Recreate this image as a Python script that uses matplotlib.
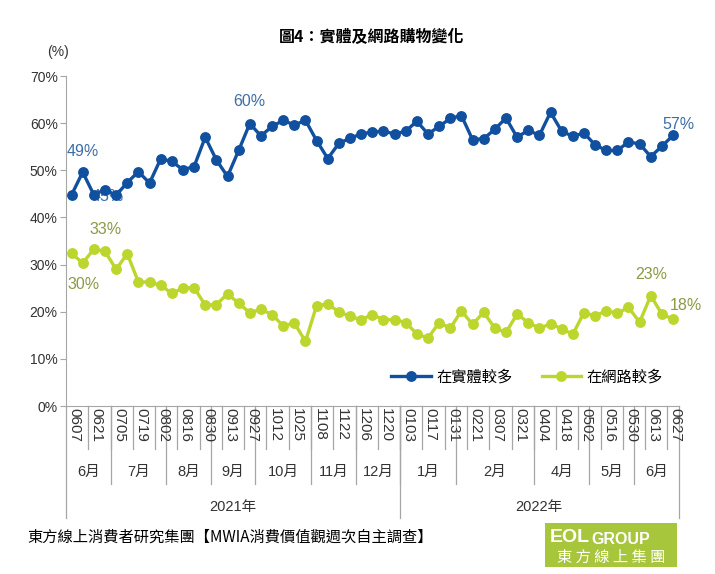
import numpy as np
import matplotlib.pyplot as plt
from matplotlib.patches import Rectangle
from matplotlib.lines import Line2D
from matplotlib.transforms import blended_transform_factory

plt.rcParams['font.family'] = ['Liberation Sans', 'Noto Sans CJK TC']

# weekly survey values (%), 0607 (2021) .. 0627 (2022)
physical = [44.8, 49.6, 44.8, 45.9, 44.7, 47.4, 49.7, 47.3, 52.4, 51.9,
            50.1, 50.8, 57.0, 52.2, 48.7, 54.2, 59.9, 57.3, 59.3,
            60.6, 59.6, 60.6, 56.3, 52.5, 55.7, 56.8, 57.7, 58.1, 58.3,
            57.7, 58.3, 60.4, 57.7, 59.3, 61.0, 61.6, 56.5, 56.7,
            58.7, 61.1, 57.0, 58.5, 57.4, 62.3, 58.3, 57.2, 57.9, 55.4,
            54.2, 54.2, 56.0, 55.6, 52.9, 55.1, 57.4]
online = [32.4, 30.3, 33.3, 32.8, 29.0, 32.3, 26.3, 26.3, 25.6, 23.9,
          25.0, 25.1, 21.4, 21.5, 23.8, 21.8, 19.8, 20.5, 19.4,
          17.0, 17.6, 13.7, 21.3, 21.6, 20.0, 19.0, 18.3, 19.4, 18.3,
          18.3, 17.7, 15.3, 14.4, 17.7, 16.5, 20.2, 17.3, 19.9,
          16.5, 15.6, 19.5, 17.7, 16.5, 17.4, 16.4, 15.2, 19.8, 19.1,
          20.2, 19.7, 20.9, 17.8, 23.4, 19.5, 18.4]

# labels shown every second week
date_labels = ['0607', '0621', '0705', '0719', '0802', '0816', '0830', '0913',
               '0927', '1012', '1025', '1108', '1122', '1206', '1220', '0103',
               '0117', '0131', '0221', '0307', '0321', '0404', '0418', '0502',
               '0516', '0530', '0613', '0627']
month_labels = ['6月', '7月', '8月', '9月', '10月', '11月', '12月',
                '1月', '2月', '4月', '5月', '6月']
month_sizes = [4, 5, 4, 4, 5, 4, 4, 5, 7, 5, 4, 4]
year_labels = ['2021年', '2022年']
year_sizes = [30, 25]

# point labels: (index, text, dx px, dy px)
phys_notes = [(1, '49%', 0, 21), (3, '45%', 3, -7), (16, '60%', 0, 22), (54, '57%', 5, 11)]
onl_notes = [(3, '33%', 1, 22), (1, '30%', 1, -21), (52, '23%', 0, 21), (54, '18%', 13, 14)]

W, H = 715, 574
blue = '#11509F'
green = '#BDD62E'
grey = '#A6A6A6'

fig = plt.figure(figsize=(W / 100, H / 100), dpi=100)
ax = fig.add_axes([66 / W, 1 - 406 / H, (678.6 - 66) / W, (406 - 76) / H])

x = np.arange(len(physical))
ax.plot(x, physical, color=blue, lw=2.4, marker='o', ms=6.8, zorder=3, label='在實體較多')
ax.plot(x, online, color=green, lw=2.4, marker='o', ms=6.8, zorder=3, label='在網路較多')

ax.set_xlim(-0.5, len(physical) - 0.5)
ax.set_ylim(0, 70)
ax.set_yticks(range(0, 71, 10))
ax.set_yticklabels(['%d%%' % v for v in range(0, 71, 10)], fontsize=10, color='#333333')
ax.tick_params(axis='y', length=4, width=0.8, color=grey, pad=2)
ax.set_xticks([])
for s in ['top', 'right']:
    ax.spines[s].set_visible(False)
ax.spines['left'].set_color(grey)
ax.spines['bottom'].set_color(grey)

# data labels (offsets given in pixels)
for i, t, dx, dy in phys_notes:
    ax.annotate(t, (i, physical[i]), xytext=(dx * 0.72, dy * 0.72), textcoords='offset points',
                ha='center', va='center', fontsize=11.5, color='#3E6EA6', zorder=2)
for i, t, dx, dy in onl_notes:
    ax.annotate(t, (i, online[i]), xytext=(dx * 0.72, dy * 0.72), textcoords='offset points',
                ha='center', va='center', fontsize=11.5, color='#8A9A46', zorder=2)

# legend
handles = [Line2D([], [], color=blue, lw=2.4, marker='o', ms=6.8),
           Line2D([], [], color=green, lw=2.4, marker='o', ms=6.8)]
fig.legend(handles, ['在實體較多', '在網路較多'], ncol=2, frameon=False, fontsize=11,
           loc='center', bbox_to_anchor=(527 / W, 1 - 377 / H),
           handlelength=2.6, handletextpad=0.35, columnspacing=1.9)

# multi-level category table below the axis
tr = blended_transform_factory(ax.transData, fig.transFigure)

def fy(py):
    return 1 - py / H

def vline(xv, y0, y1):
    ax.plot([xv, xv], [fy(y0), fy(y1)], color=grey, lw=0.9, transform=tr, clip_on=False)

n = len(physical)
for k, lab in enumerate(date_labels):
    ax.text(2 * k + 0.25, fy(408), lab, transform=tr, rotation=270, ha='center', va='top',
            fontsize=11, color='#333333')
for xv in np.arange(1.5, n - 1, 2):
    vline(xv, 406, 449)

start = 0
for lab, size in zip(month_labels, month_sizes):
    ax.text(start + size / 2 - 0.5, fy(472), lab, transform=tr, ha='center', va='center',
            fontsize=10.5, color='#333333')
    start += size
    if start < n:
        vline(start - 0.5, 406, 484)

start = 0
for lab, size in zip(year_labels, year_sizes):
    ax.text(start + size / 2 - 0.5, fy(507), lab, transform=tr, ha='center', va='center',
            fontsize=10.5, color='#333333')
    start += size
    vline(start - 0.5, 406, 518)
vline(-0.5, 406, 518)

# titles and footer
fig.text(372 / W, fy(37), '圖4：實體及網路購物變化', ha='center', va='center',
         fontsize=11.5, fontweight='bold', family=['Noto Sans CJK TC'])
fig.text(58 / W, fy(52), '(%)', ha='center', va='center', fontsize=10, color='#333333')
fig.text(27 / W, fy(537), '東方線上消費者研究集團【MWIA消費價值觀週次自主調查】',
         ha='left', va='center', fontsize=11, family=['Noto Sans CJK TC'])

# logo box
fig.patches.append(Rectangle((545 / W, fy(567)), 132 / W, 44 / H, transform=fig.transFigure,
                             facecolor='#A8C63C', edgecolor='none'))
fig.text(550 / W, fy(538), 'EOL', ha='left', va='center', fontsize=14, fontweight='bold', color='white')
fig.text(591 / W, fy(539), 'GROUP', ha='left', va='center', fontsize=11.5, fontweight='bold', color='white')
fig.text(611 / W, fy(557), '東 方 線 上 集 團', ha='center', va='center', fontsize=11,
         color='white', family=['Noto Sans CJK TC'])

fig.savefig('out.png', dpi=100)
